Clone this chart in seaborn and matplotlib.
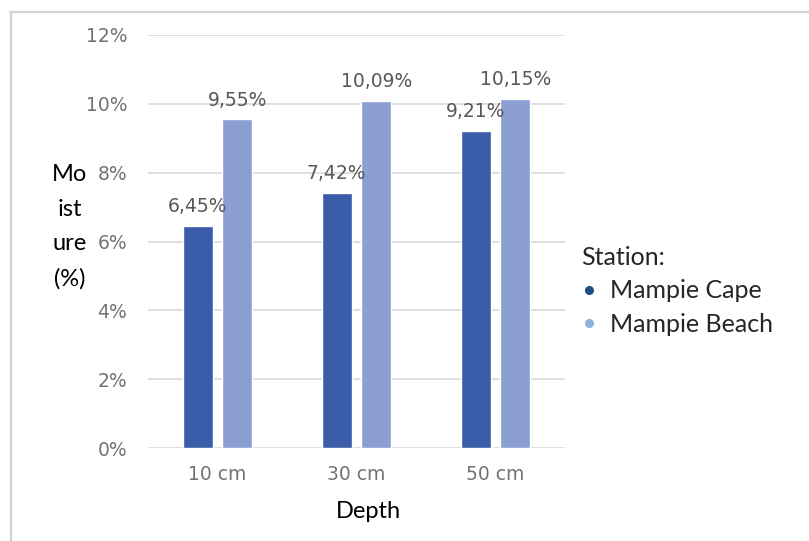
import matplotlib
matplotlib.use("Agg")
import matplotlib.pyplot as plt
from matplotlib.lines import Line2D
from matplotlib.ticker import FuncFormatter, MultipleLocator
import pandas as pd
import seaborn as sns

# Soil moisture by sampling depth at the two Mampie stations
depths = ["10 cm", "30 cm", "50 cm"]
stations = ["Mampie Cape", "Mampie Beach"]
cape_moisture = [6.45, 7.42, 9.21]
beach_moisture = [9.55, 10.09, 10.15]

df = pd.DataFrame({
    "Depth": depths * 2,
    "Station": [stations[0]] * 3 + [stations[1]] * 3,
    "Moisture": cape_moisture + beach_moisture,
})

sns.set_theme(style="white")
plt.rcParams["font.family"] = ["DejaVu Sans"]

bar_colors = ["#3b5ca8", "#8b9fd3"]
dot_colors = ["#1f4e85", "#8db3e2"]
tick_gray = "#737373"
label_gray = "#585858"
grid_gray = "#d9d9d9"
side_font = ["Lato", "DejaVu Sans"]

fig = plt.figure(figsize=(8.09, 5.41), dpi=100)
ax = fig.add_axes([148 / 809, 1 - 448 / 541, (565 - 148) / 809, (448 - 35) / 541])

sns.barplot(data=df, x="Depth", y="Moisture", hue="Station", hue_order=stations,
            palette=bar_colors, saturation=1, width=0.572, gap=0.25,
            errorbar=None, legend=False, ax=ax)

ax.set_xlim(-0.5, 2.5)
ax.set_ylim(0, 12)
ax.yaxis.set_major_locator(MultipleLocator(2))
ax.yaxis.set_major_formatter(FuncFormatter(lambda v, p: f"{v:.0f}%"))
ax.set_axisbelow(True)
ax.grid(axis="y", color=grid_gray, linewidth=1.2)
ax.grid(axis="x", visible=False)
for s in ax.spines.values():
    s.set_visible(False)

ax.tick_params(axis="both", length=0, labelsize=13.5, labelcolor=tick_gray)
ax.tick_params(axis="y", pad=15)
ax.tick_params(axis="x", pad=12)

# value labels with comma decimals
for container in ax.containers:
    labels = [f"{b.get_height():.2f}%".replace(".", ",") for b in container]
    ax.bar_label(container, labels=labels, padding=7, fontsize=13.5, color=label_gray)

ax.set_xlabel("Depth", family=side_font, fontsize=17, color="black")
ax.xaxis.set_label_coords((368 - 148) / 417, (448 - 511) / 413)
ax.xaxis.label.set_va("center")

ax.set_ylabel("Mo\nist\nure\n(%)", family=side_font, fontsize=17, color="black",
              rotation=0, linespacing=1.8, ha="center", va="center")
ax.yaxis.set_label_coords((70 - 148) / 417, (448 - 227) / 413)

handles = [Line2D([0], [0], marker="o", linestyle="none", markersize=5.5,
                  markerfacecolor=c, markeredgecolor=c) for c in dot_colors]
leg = fig.legend(handles, stations, title="Station:", loc="upper left",
                 bbox_to_anchor=(581 / 809, 1 - 246 / 541), frameon=False,
                 prop={"family": side_font, "size": 18},
                 title_fontproperties={"family": side_font, "size": 18},
                 alignment="left", borderpad=0, borderaxespad=0,
                 handlelength=0.6, handletextpad=0.55, labelspacing=0.42)

# light page frame along the top and left edges
fig.add_artist(Line2D([10 / 809, 1], [1 - 12 / 541, 1 - 12 / 541],
                      color="#d3d3d3", linewidth=1.6, transform=fig.transFigure))
fig.add_artist(Line2D([11 / 809, 11 / 809], [0, 1 - 12 / 541],
                      color="#d3d3d3", linewidth=1.6, transform=fig.transFigure))

fig.savefig("out.png", dpi=100, facecolor="white")
